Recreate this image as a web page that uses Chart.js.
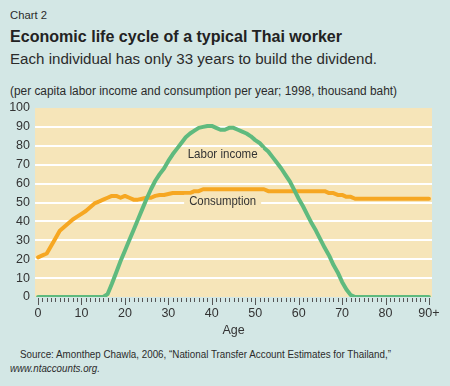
<!DOCTYPE html>
<html>
<head>
<meta charset="utf-8">
<script src="https://cdn.jsdelivr.net/npm/chart.js@4.4.0/dist/chart.umd.min.js"></script>
<style>
  html, body { margin: 0; padding: 0; }
  body {
    width: 450px; height: 386px; background: #d3e7e5; position: relative; overflow: hidden;
    font-family: 'Liberation Sans', Arial, sans-serif; color: #2b2b2b;
  }
  .t { position: absolute; left: 10px; white-space: nowrap; line-height: 1; transform-origin: 0 0; }
  #kicker { top: 9.5px; font-size: 11.5px; }
  #title { top: 27.5px; font-size: 17px; font-weight: bold; color: #222; }
  #subtitle { top: 50.5px; font-size: 15.5px; }
  #unit { top: 85px; font-size: 12.5px; }
  #source { top: 348.5px; left: 20px; font-size: 11.5px; }
  #url { top: 363.3px; font-size: 11.5px; font-style: italic; }
  #wrap { position: absolute; left: 0; top: 95px; width: 450px; height: 243px; }
</style>
</head>
<body>
<div class="t" id="kicker" data-w="37">Chart 2</div>
<div class="t" id="title" data-w="332">Economic life cycle of a typical Thai worker</div>
<div class="t" id="subtitle" data-w="367">Each individual has only 33 years to build the dividend.</div>
<div class="t" id="unit" data-w="387">(per capita labor income and consumption per year; 1998, thousand baht)</div>
<div id="wrap"><canvas id="chart" width="450" height="243"></canvas></div>
<div class="t" id="source" data-w="371">Source: Amonthep Chawla, 2006, “National Transfer Account Estimates for Thailand,”</div>
<div class="t" id="url" data-w="90">www.ntaccounts.org.</div>
<script>
// squeeze the text lines to the condensed width of the original
document.querySelectorAll('.t').forEach(el => {
    const w = el.getBoundingClientRect().width;
    el.style.transform = 'scaleX(' + (parseFloat(el.dataset.w) / w) + ')';
});

// ages 0..90+
const ages = [];
for (let a = 0; a <= 90; a++) ages.push(a);

const laborIncome = [
    0, 0, 0, 0, 0, 0, 0, 0, 0, 0,                  // 0-9
    0, 0, 0, 0, 0, 0, 1.5, 7, 13, 19,              // 10-19
    24.5, 30, 35.5, 41, 46.5, 52, 57, 61.5, 65, 68, // 20-29
    72, 75.5, 78.5, 81.5, 84.5, 86.5, 88, 89.5, 90, 90.5, // 30-39
    90.5, 89.5, 88.5, 88.5, 89.5, 89.5, 88.5, 87.5, 86.5, 85, // 40-49
    83, 81.5, 79, 77, 74, 71, 68, 64.5, 61, 56.5,  // 50-59
    52, 48, 43.5, 39, 35, 30.5, 26, 22, 17, 13,    // 60-69
    8, 4, 1, 0, 0, 0, 0, 0, 0, 0,                  // 70-79
    0, 0, 0, 0, 0, 0, 0, 0, 0, 0, 0                // 80-90+
];

const consumption = [
    21, 22, 23, 27, 31, 35, 37, 39, 41, 42.5,      // 0-9
    44, 45.5, 47.5, 49.5, 50.5, 51.5, 52.5, 53.5, 53.5, 52.5, // 10-19
    53.5, 52.5, 51.5, 51.5, 52, 52.5, 52.5, 53.5, 54, 54, // 20-29
    54.5, 55, 55, 55, 55, 55, 56, 56, 57, 57,      // 30-39
    57, 57, 57, 57, 57, 57, 57, 57, 57, 57,        // 40-49
    57, 57, 57, 56, 56, 56, 56, 56, 56, 56,        // 50-59
    56, 56, 56, 56, 56, 56, 56, 55, 55, 54,        // 60-69
    54, 53, 53, 52, 52, 52, 52, 52, 52, 52,        // 70-79
    52, 52, 52, 52, 52, 52, 52, 52, 52, 52, 52     // 80-90+
];

const yTicks = [0, 10, 20, 30, 40, 50, 60, 70, 80, 90, 100];
const xTickLabels = ['0', '10', '20', '30', '40', '50', '60', '70', '80', '90+'];

const GREEN = '#5fba7e';
const ORANGE = '#f6a722';
const CREAM = '#f6e5b9';
const FONT = "'Liberation Sans', Arial, sans-serif";

const plotBg = {
    id: 'plotBg',
    beforeDraw(chart) {
        const { ctx, chartArea: a } = chart;
        ctx.save();
        ctx.fillStyle = CREAM;
        ctx.fillRect(a.left, a.top, a.right - a.left, a.bottom - a.top);
        ctx.restore();
    }
};

// tick marks under the plot, one per year, longer every ten
const ageTicks = {
    id: 'ageTicks',
    afterDraw(chart) {
        const { ctx, chartArea: a } = chart;
        const xs = chart.scales.x;
        ctx.save();
        ctx.strokeStyle = '#555';
        ctx.lineWidth = 1;
        ages.forEach(age => {
            const x = Math.round(xs.getPixelForValue(age)) + 0.5;
            const len = age % 10 === 0 ? 7 : 4;
            ctx.beginPath();
            ctx.moveTo(x, a.bottom + 1);
            ctx.lineTo(x, a.bottom + 1 + len);
            ctx.stroke();
        });
        ctx.restore();
    }
};

// in-chart series labels, narrowed like the original face
const seriesLabels = {
    id: 'seriesLabels',
    afterDatasetsDraw(chart) {
        const { ctx } = chart;
        const xs = chart.scales.x, ys = chart.scales.y;
        ctx.save();
        ctx.font = '13px ' + FONT;
        ctx.textAlign = 'center';
        ctx.textBaseline = 'middle';
        [['Labor income', 42.5, 75.2, 70], ['Consumption', 42.5, 50.4, 67]].forEach(([txt, ax, ay, tw]) => {
            const x = xs.getPixelForValue(ax), y = ys.getPixelForValue(ay);
            const w = ctx.measureText(txt).width;
            ctx.fillStyle = CREAM;
            ctx.fillRect(x - tw / 2 - 5, y - 7, tw + 10, 14);
            ctx.save();
            ctx.translate(x, y);
            ctx.scale(tw / w, 1);
            ctx.fillStyle = '#333';
            ctx.fillText(txt, 0, 0);
            ctx.restore();
        });
        ctx.restore();
    }
};

new Chart(document.getElementById('chart'), {
    type: 'line',
    data: {
        labels: ages,
        datasets: [
            {
                label: 'Labor income',
                data: ages.map((a, i) => ({ x: a, y: laborIncome[i] })),
                borderColor: GREEN,
                borderWidth: 4,
                pointRadius: 0,
                tension: 0,
                borderJoinStyle: 'round',
                borderCapStyle: 'round'
            },
            {
                label: 'Consumption',
                data: ages.map((a, i) => ({ x: a, y: consumption[i] })),
                borderColor: ORANGE,
                borderWidth: 4,
                pointRadius: 0,
                tension: 0,
                borderJoinStyle: 'round',
                borderCapStyle: 'round'
            }
        ]
    },
    options: {
        responsive: false,
        animation: false,
        layout: { padding: { top: 13, right: 18, left: 0, bottom: 0 } },
        plugins: {
            legend: { display: false },
            tooltip: { enabled: false }
        },
        scales: {
            x: {
                type: 'linear',
                min: -0.7,
                max: 90.7,
                afterBuildTicks: (scale) => {
                    scale.ticks = xTickLabels.map((t, i) => ({ value: i * 10 }));
                },
                afterFit: (scale) => { scale.height = 41; },
                grid: { display: false, drawTicks: false },
                border: { display: false },
                ticks: {
                    padding: 9,
                    maxRotation: 0,
                    autoSkip: false,
                    color: '#333',
                    font: { family: FONT, size: 12.5 },
                    callback: (v) => xTickLabels[Math.round(v / 10)]
                },
                title: {
                    display: true,
                    text: 'Age',
                    color: '#333',
                    font: { family: FONT, size: 12.5 },
                    padding: { top: 1, bottom: 0 }
                }
            },
            y: {
                min: 0,
                max: 100,
                afterBuildTicks: (scale) => {
                    scale.ticks = yTicks.map(v => ({ value: v }));
                },
                afterFit: (scale) => { scale.width = 35; },
                grid: {
                    color: (c) => (c.tick && (c.tick.value === 0 || c.tick.value === 100)) ? 'rgba(0,0,0,0)' : '#ffffff',
                    lineWidth: 2,
                    drawTicks: false
                },
                border: { display: false },
                ticks: {
                    padding: 5,
                    autoSkip: false,
                    color: '#333',
                    font: { family: FONT, size: 12.5 }
                }
            }
        }
    },
    plugins: [plotBg, ageTicks, seriesLabels]
});
</script>
</body>
</html>
